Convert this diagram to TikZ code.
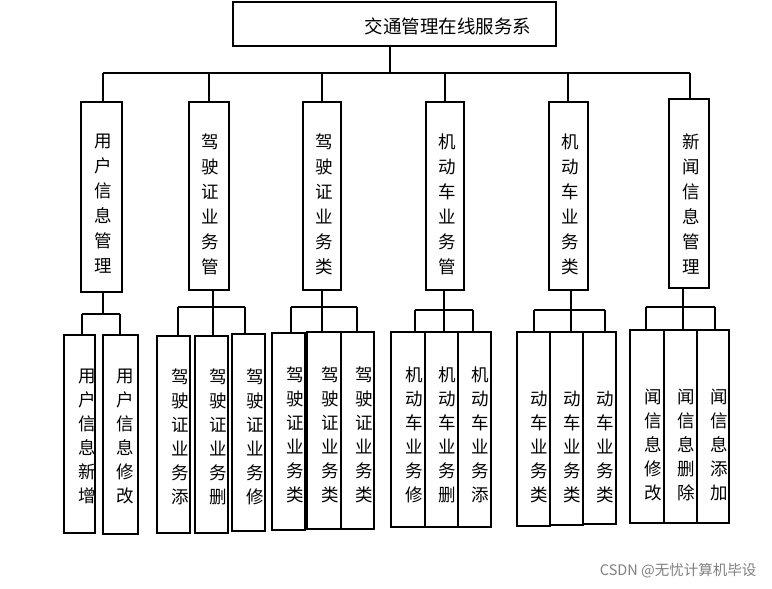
\documentclass[tikz,border=0pt]{standalone}
\usepackage{fontspec}
\newfontfamily\cjk{Noto Sans CJK SC}
\begin{document}
\begin{tikzpicture}[x=1pt,y=-1pt,line width=1.2pt,
  box/.style={draw,rectangle,inner sep=0pt},
  lbl/.style={font=\cjk\fontsize{17.5}{24}\selectfont,align=center,anchor=north,inner sep=0pt},
  lbl2/.style={font=\cjk\fontsize{17.5}{25}\selectfont,align=center,anchor=north,inner sep=0pt}]
\useasboundingbox[fill=white] (0,0) rectangle (772,589);
\newcommand{\bx}[5]{\node[box,minimum width={(#3-#1)*1pt},minimum height={(#4-#2)*1pt}] (#5) at ({(#1+#3)/2},{(#2+#4)/2}) {};}
\bx{233}{2}{556}{46}{top}
\node[font=\cjk\fontsize{18.5}{20}\selectfont,inner sep=0pt] (toplbl) at (448,26) {交通管理在线服务系};
% level 2
\bx{81}{102}{122}{292}{a}
\bx{189}{102}{229}{290}{b}
\bx{303}{102}{341}{290}{c}
\bx{426}{102}{464}{290}{d}
\bx{549}{102}{588}{290}{e}
\bx{669}{99}{709}{288}{f}
\node[lbl2] (al) at (103,133) {用\\户\\信\\息\\管\\理};
\node[lbl2] (bl) at (210,133) {驾\\驶\\证\\业\\务\\管};
\node[lbl2] (cl) at (324,133) {驾\\驶\\证\\业\\务\\类};
\node[lbl2] (dl) at (447,133) {机\\动\\车\\业\\务\\管};
\node[lbl2] (el) at (570,133) {机\\动\\车\\业\\务\\类};
\node[lbl2] (fl) at (691,133) {新\\闻\\信\\息\\管\\理};
\coordinate (j0) at (390,73);
\draw (top.south -| j0) -- (j0);
\draw (103,73) -- (690,73);
\foreach \n/\x in {a/103,b/209,c/322,d/445,e/568,f/690} \draw (\x,73) -- (\n.north -| \x,0);
% level 3 boxes
\bx{64}{335}{95}{533}{a1} \bx{103}{335}{138}{534}{a2}
\bx{157}{336}{190}{533}{b1} \bx{195}{336}{228}{533}{b2} \bx{232}{334}{265}{531}{b3}
\bx{272}{333}{305}{530}{c1} \bx{307}{332}{341}{529}{c2} \bx{341}{332}{374}{529}{c3}
\bx{391}{332}{425}{527}{d1} \bx{425}{332}{458}{527}{d2} \bx{458}{332}{491}{527}{d3}
\bx{517}{332}{550}{526}{e1} \bx{550}{332}{583}{525}{e2} \bx{583}{332}{616}{524}{e3}
\bx{630}{330}{664}{523}{f1} \bx{664}{330}{697}{523}{f2} \bx{697}{330}{729}{523}{f3}
% connectors
\draw (a.south -| 103,0) -- (103,314); \draw (82,314) -- (120,314); \draw (82,314) -- (82,335); \draw (120,314) -- (120,335);
\draw (b.south -| 213,0) -- (213,307); \draw (178,307) -- (245,307); \draw (178,307) -- (178,336); \draw (213,307) -- (213,336); \draw (245,307) -- (245,334);
\draw (c.south -| 322,0) -- (322,307); \draw (291,307) -- (357,307); \draw (291,307) -- (291,333); \draw (322,307) -- (322,332); \draw (357,307) -- (357,332);
\draw (d.south -| 444,0) -- (444,310); \draw (415,310) -- (473,310); \draw (415,310) -- (415,332); \draw (444,310) -- (444,332); \draw (473,310) -- (473,332);
\draw (e.south -| 571,0) -- (571,310); \draw (534,310) -- (605,310); \draw (534,310) -- (534,332); \draw (571,310) -- (571,332); \draw (605,310) -- (605,332);
\draw (f.south -| 683,0) -- (683,307); \draw (646,307) -- (715,307); \draw (646,307) -- (646,330); \draw (683,307) -- (683,330); \draw (715,307) -- (715,330);
% level 3 labels
\node[lbl] (a1l) at (87,368) {用\\户\\信\\息\\新\\增};
\node[lbl] (a2l) at (125,368) {用\\户\\信\\息\\修\\改};
\node[lbl] (b1l) at (180,368) {驾\\驶\\证\\业\\务\\添};
\node[lbl] (b2l) at (218,368) {驾\\驶\\证\\业\\务\\删};
\node[lbl] (b3l) at (255,368) {驾\\驶\\证\\业\\务\\修};
\node[lbl] (c1l) at (295,366) {驾\\驶\\证\\业\\务\\类};
\node[lbl] (c2l) at (330,366) {驾\\驶\\证\\业\\务\\类};
\node[lbl] (c3l) at (364,366) {驾\\驶\\证\\业\\务\\类};
\node[lbl] (d1l) at (414,366) {机\\动\\车\\业\\务\\修};
\node[lbl] (d2l) at (447,366) {机\\动\\车\\业\\务\\删};
\node[lbl] (d3l) at (480,366) {机\\动\\车\\业\\务\\添};
\node[lbl] (e1l) at (539,390) {动\\车\\业\\务\\类};
\node[lbl] (e2l) at (572,390) {动\\车\\业\\务\\类};
\node[lbl] (e3l) at (605,390) {动\\车\\业\\务\\类};
\node[lbl] (f1l) at (653,388) {闻\\信\\息\\修\\改};
\node[lbl] (f2l) at (686,388) {闻\\信\\息\\删\\除};
\node[lbl] (f3l) at (719,388) {闻\\信\\息\\添\\加};
\node[font=\cjk\fontsize{14.5}{16}\selectfont,text=gray,anchor=east,inner sep=0pt] (wm) at (757,571) {CSDN @无忧计算机毕设};
\end{tikzpicture}
\end{document}
